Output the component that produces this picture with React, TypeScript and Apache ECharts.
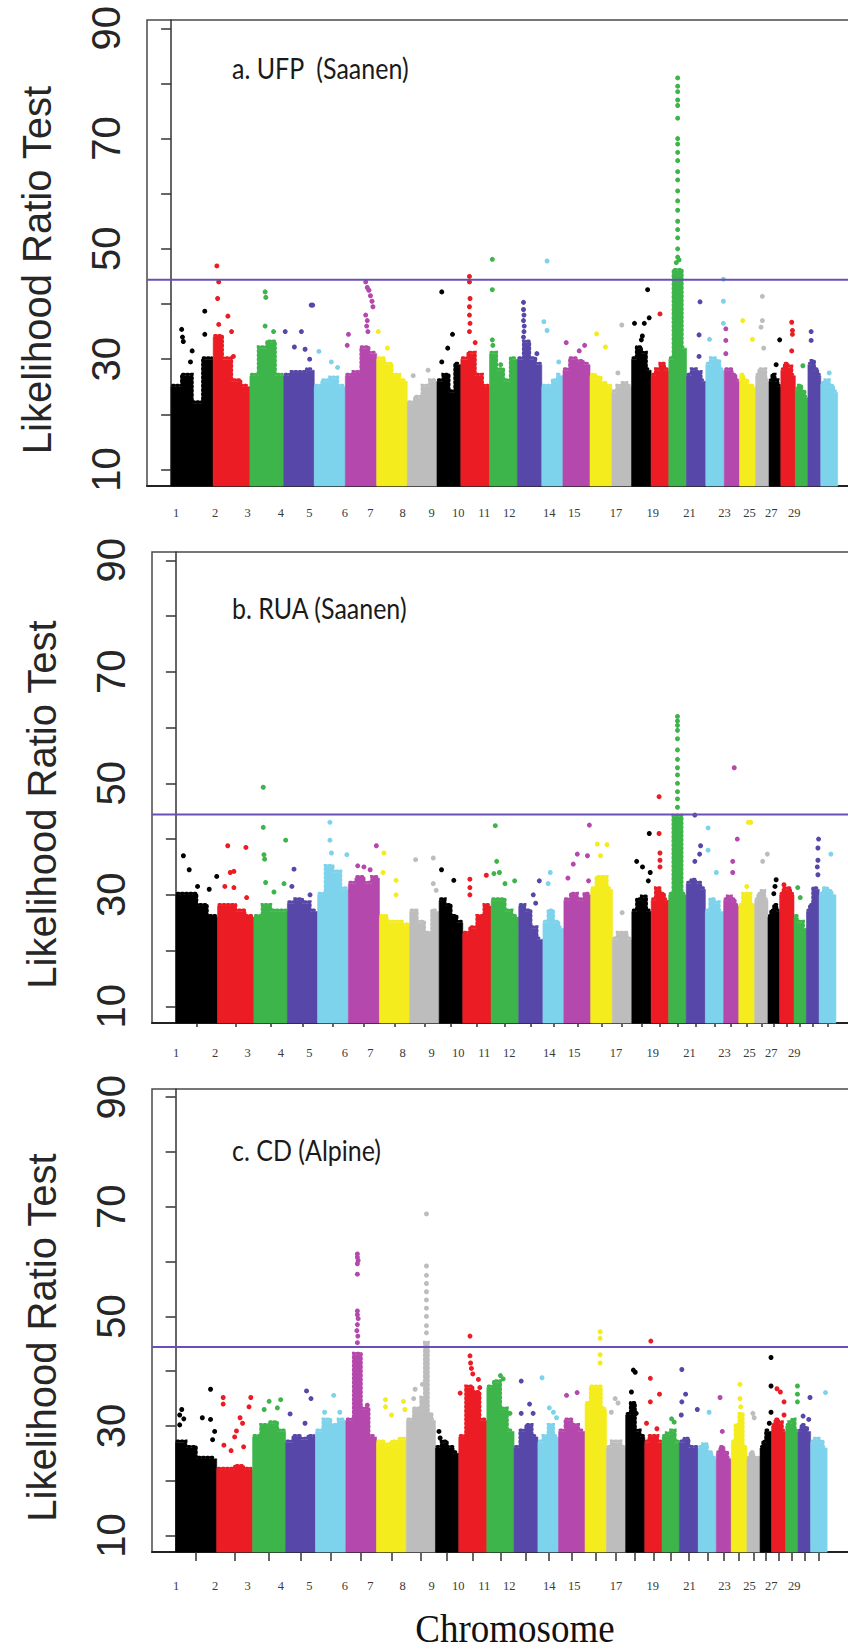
import React, { useEffect, useRef } from "react";
import * as echarts from "echarts";

// ---- shared axis data ----
const CHR_LENGTHS = [157, 137, 126, 114, 116, 117, 114, 111, 89, 107, 104, 91, 79, 101, 82, 73, 73, 66, 66, 72, 69, 57, 60, 50, 44, 54, 47, 48, 63];
const CHR_COLORS = ["#000000", "#EC1C24", "#3DB54A", "#5747A8", "#7ED3EC", "#B548AC", "#F4EC1C", "#BDBDBD"];
const X_MIN = -90;
const X_MAX = 2580;
const Y_MIN = 7;
const Y_MAX = 91.5;
const Y_TICKS = [10, 20, 30, 40, 50, 60, 70, 80, 90];
const Y_TICK_LABELS = [10, 30, 50, 70, 90];
const X_TICK_LABELS = ["1", "2", "3", "4", "5", "6", "7", "8", "9", "10", "11", "12", "14", "15", "17", "19", "21", "23", "25", "27", "29"];
const X_TICK_LABEL_POS = [-3, 144, 267, 392, 499, 633, 729, 851, 960, 1060, 1158, 1252, 1403, 1497, 1654, 1793, 1931, 2063, 2157, 2239, 2326];
const THRESHOLD = 44.4;
const PANEL_TITLES = ["a. UFP  (Saanen)", "b. RUA (Saanen)", "c. CD (Alpine)"];
const Y_TITLE = "Likelihood Ratio Test";
const X_TITLE = "Chromosome";

// ---- panel a: dense block heights per chromosome (segments) ----
const BLOCKS_A = [
  [25, 27, 22, 30], [34, 30, 26, 25], [27, 32, 33, 27], [27, 27.5, 27.5, 28], [25, 26, 26.5, 25],
  [27, 27.5, 32, 31], [30, 29, 27, 26], [22, 23, 25, 26], [26, 27, 24, 29], [30, 31, 27, 25],
  [31, 28, 26, 30], [30, 33, 30, 29], [25, 25, 26, 27], [28, 30, 29.5, 29], [27, 26.5, 25.5, 25],
  [24, 25, 25.5, 25], [30, 32, 31, 28], [27, 28, 29, 28], [30, 46, 46, 32], [27, 28, 27.5, 26],
  [29, 30, 29.5, 28], [28, 28, 27, 26], [27, 26, 25, 25], [27, 28, 28, 26], [26, 27, 26, 25],
  [28, 29, 28.5, 27], [24.5, 25, 24, 23], [29, 29.5, 28, 27], [25.5, 26, 25, 24],
];
// [chromosome, fraction along chromosome, LRT]
const POINTS_A = [
  [1, 0.25, 35.4], [1, 0.27, 34], [1, 0.29, 33.2], [1, 0.5, 31.5], [1, 0.46, 29.5], [1, 0.8, 34.5], [1, 0.8, 38.7],
  [2, 0.1, 46.9], [2, 0.15, 44], [2, 0.12, 41], [2, 0.4, 37.8], [2, 0.15, 36.3], [2, 0.5, 35], [2, 0.55, 30.5],
  [3, 0.45, 42.2], [3, 0.47, 41.2], [3, 0.45, 36], [3, 0.7, 35],
  [4, 0.05, 35], [4, 0.58, 35], [4, 0.35, 32.2], [4, 0.7, 31.8], [4, 0.85, 30], [4, 0.9, 39.8], [4, 0.95, 39.8],
  [5, 0.15, 31.4], [5, 0.55, 29.5], [5, 0.75, 28.5],
  [6, 0.65, 44], [6, 0.7, 43], [6, 0.75, 42.5], [6, 0.8, 41.5], [6, 0.85, 40.5], [6, 0.88, 39.5], [6, 0.65, 38], [6, 0.7, 37], [6, 0.68, 36], [6, 0.72, 35], [6, 0.1, 34.5], [6, 0.06, 32.5],
  [7, 0.05, 35], [7, 0.35, 32],
  [8, 0.7, 28], [8, 0.2, 27],
  [9, 0.2, 42.2], [9, 0.65, 34.5], [9, 0.45, 32], [9, 0.2, 29.5],
  [10, 0.3, 45], [10, 0.3, 44], [10, 0.32, 41], [10, 0.3, 39.5], [10, 0.3, 38], [10, 0.32, 36.5], [10, 0.3, 35], [10, 0.5, 33],
  [11, 0.1, 48.1], [11, 0.1, 42.6], [11, 0.1, 33.5], [11, 0.12, 32.5], [11, 0.4, 29],
  [12, 0.25, 40.3], [12, 0.25, 39], [12, 0.27, 38], [12, 0.25, 37], [12, 0.28, 36], [12, 0.27, 35], [12, 0.25, 34], [12, 0.8, 31],
  [13, 0.25, 47.8], [13, 0.1, 36.8], [13, 0.25, 35.2], [13, 0.8, 29.5],
  [14, 0.12, 33], [14, 0.8, 32.5], [14, 0.6, 31.5],
  [15, 0.3, 34.6], [15, 0.7, 32.2],
  [16, 0.5, 36.2], [16, 0.3, 27.5],
  [17, 0.82, 42.6], [17, 0.15, 36.5], [17, 0.9, 37.5], [17, 0.65, 36.5], [17, 0.55, 34.2], [17, 0.5, 33.5],
  [18, 0.5, 38.2],
  [19, 0.5, 81], [19, 0.5, 79.5], [19, 0.5, 78.5], [19, 0.5, 77], [19, 0.5, 76], [19, 0.5, 73.7], [19, 0.5, 70], [19, 0.5, 69], [19, 0.5, 67.5], [19, 0.5, 66], [19, 0.5, 64], [19, 0.5, 62.5], [19, 0.5, 60.5], [19, 0.5, 58.7], [19, 0.5, 57], [19, 0.5, 55], [19, 0.5, 53.5], [19, 0.5, 52], [19, 0.5, 50], [19, 0.5, 48.5], [19, 0.42, 47.5], [19, 0.58, 48],
  [20, 0.7, 40.4], [20, 0.65, 34.4], [20, 0.65, 30.5],
  [21, 0.2, 33.6], [21, 0.95, 44.5], [21, 0.95, 40.5], [21, 0.95, 36.5],
  [22, 0.1, 35.5], [22, 0.1, 33.4], [22, 0.1, 31],
  [23, 0.2, 37], [23, 0.8, 33.6],
  [24, 0.5, 41.4], [24, 0.5, 37], [24, 0.4, 35.8], [24, 0.6, 32],
  [25, 0.9, 33.5], [25, 0.6, 29],
  [26, 0.75, 36.7], [26, 0.8, 35.2], [26, 0.8, 34.5], [26, 0.75, 31.5],
  [27, 0.6, 28.8],
  [28, 0.25, 35], [28, 0.25, 33.4],
  [29, 0.5, 27.5],
];

// ---- panel b ----
const BLOCKS_B = [
  [30, 30, 28, 26], [28, 28, 27, 26], [26, 28, 27, 27], [28.5, 29, 28.5, 27], [30, 35, 34, 31],
  [32, 33, 32, 33], [26, 25, 25, 24.5], [27, 25, 23, 27], [29, 28, 26, 25], [23, 24, 26, 28],
  [29, 29, 27, 26], [28, 27, 24, 22], [25, 27, 25, 24], [29, 30, 29, 30], [31, 33, 33, 31],
  [22, 23, 23, 22], [27, 29, 29.5, 27], [29, 31, 30, 29], [30, 44, 44, 30], [32, 32.5, 32, 31],
  [27, 29, 28.5, 27], [29, 29.5, 29, 28], [28, 30, 30, 28], [29, 30, 30.5, 29], [26, 27, 28, 27],
  [30, 31, 31, 30], [26, 25, 25, 24], [27, 28, 31, 31], [30, 31, 30.5, 30],
];
const POINTS_B = [
  [1, 0.18, 37], [1, 0.32, 34.5], [1, 0.98, 33.3], [1, 0.52, 31.5], [1, 0.8, 31],
  [2, 0.28, 38.8], [2, 0.78, 38.5], [2, 0.35, 34], [2, 0.45, 34.2], [2, 0.2, 31.5], [2, 0.45, 31.3], [2, 0.8, 29.5],
  [3, 0.28, 49.3], [3, 0.28, 42.1], [3, 0.95, 39.8], [3, 0.3, 37.2], [3, 0.32, 36.4], [3, 0.35, 32.2], [3, 0.9, 32], [3, 0.6, 30.5],
  [4, 0.22, 34.6], [4, 0.15, 31.5], [4, 0.75, 30],
  [5, 0.4, 43], [5, 0.4, 39.8], [5, 0.45, 37.5], [5, 0.95, 37.2],
  [6, 0.9, 38.8], [6, 0.3, 35.2], [6, 0.5, 35], [6, 0.7, 34.5],
  [7, 0.15, 37.5], [7, 0.12, 34], [7, 0.55, 32.6], [7, 0.55, 30],
  [8, 0.2, 36.3], [8, 0.8, 36.6], [8, 0.8, 32], [8, 0.9, 30.8],
  [9, 0.1, 34.5], [9, 0.62, 32.6],
  [10, 0.25, 32.8], [10, 0.25, 31.3], [10, 0.25, 30], [10, 0.83, 33.5],
  [11, 0.15, 42.4], [11, 0.2, 36], [11, 0.3, 34], [11, 0.1, 33.8], [11, 0.5, 32], [11, 0.85, 32.5],
  [12, 0.85, 32.5], [12, 0.6, 30], [12, 0.7, 28.5],
  [13, 0.35, 34], [13, 0.25, 32],
  [14, 0.5, 37.3], [14, 0.88, 37], [14, 0.35, 35.5], [14, 0.15, 33], [14, 0.92, 32.5], [14, 0.95, 42.5],
  [15, 0.3, 39.1], [15, 0.75, 39], [15, 0.45, 37],
  [16, 0.5, 26.8],
  [17, 0.9, 41], [17, 0.25, 36], [17, 0.55, 35], [17, 0.95, 34], [17, 0.85, 32.5],
  [18, 0.45, 47.6], [18, 0.45, 41], [18, 0.5, 37.5], [18, 0.5, 36.2], [18, 0.5, 35],
  [19, 0.5, 62], [19, 0.5, 61.2], [19, 0.5, 60.4], [19, 0.5, 59.5], [19, 0.5, 58], [19, 0.5, 56], [19, 0.5, 54.3], [19, 0.5, 52.8], [19, 0.5, 51.5], [19, 0.5, 50], [19, 0.5, 48.5], [19, 0.5, 47.2], [19, 0.5, 45.7],
  [20, 0.45, 44.3], [20, 0.75, 38.8], [20, 0.7, 37.3], [20, 0.45, 36],
  [21, 0.15, 42], [21, 0.15, 38], [21, 0.6, 34],
  [22, 0.7, 52.8], [22, 0.9, 40], [22, 0.6, 36], [22, 0.6, 34],
  [23, 0.6, 43], [23, 0.75, 43], [23, 0.5, 31.5],
  [24, 0.95, 37.3], [24, 0.6, 36],
  [25, 0.7, 32.7], [25, 0.6, 31.5], [25, 0.5, 30.2],
  [26, 0.3, 31.8],
  [27, 0.3, 31.3], [27, 0.5, 29.5],
  [28, 0.95, 40], [28, 0.9, 38.4], [28, 0.9, 36.2], [28, 0.85, 35], [28, 0.9, 33.6],
  [29, 0.7, 37.3],
];

// ---- panel c ----
const BLOCKS_C = [
  [27, 26, 24, 24], [22, 22, 22.5, 22], [28, 30, 30.5, 29], [27, 28, 27.5, 28], [29, 31, 30, 31],
  [31, 43, 33, 28], [27, 26.5, 27, 27.5], [31, 31, 33, 33, 35, 45, 32, 31], [26, 27, 26, 25], [28, 37, 36, 31],
  [37, 38, 33, 29], [26, 29, 30, 28], [27, 28, 30, 28], [29, 31, 30, 29], [34, 37, 37, 33],
  [26, 27, 27, 26], [32, 34, 29, 28], [27, 28, 28, 27], [28, 28.5, 29, 27], [27, 27.5, 26, 26],
  [26, 26.5, 25, 24], [25, 26, 25, 24], [27, 30, 32, 26], [24, 25, 24, 24], [26, 27, 29, 29],
  [30, 31, 30.5, 29], [30, 30.5, 31, 29], [29, 30, 29.5, 29], [27, 27.5, 27, 26],
];
const POINTS_C = [
  [1, 0.15, 33], [1, 0.1, 32], [1, 0.2, 31.3], [1, 0.1, 30.2], [1, 0.85, 36.7], [1, 0.65, 31.5], [1, 0.85, 31.2], [1, 0.95, 29], [1, 0.9, 27.5],
  [2, 0.18, 35.2], [2, 0.18, 34], [2, 0.95, 35.2], [2, 0.9, 33.5], [2, 0.65, 31.5], [2, 0.72, 30.5], [2, 0.55, 29.1], [2, 0.5, 28], [2, 0.2, 26.5], [2, 0.4, 25.5], [2, 0.75, 26.2],
  [3, 0.5, 34.5], [3, 0.85, 34.8], [3, 0.75, 33.3], [3, 0.35, 33],
  [4, 0.7, 36.4], [4, 0.85, 35], [4, 0.15, 32.2], [4, 0.65, 30.5],
  [5, 0.6, 35.6], [5, 0.3, 32.5], [5, 0.8, 32.5],
  [6, 0.375, 61.4], [6, 0.375, 60.8], [6, 0.4, 60.2], [6, 0.375, 59.6], [6, 0.375, 57.7], [6, 0.375, 51], [6, 0.375, 50.3], [6, 0.4, 49.6], [6, 0.375, 48.5], [6, 0.36, 47.4], [6, 0.39, 46.4], [6, 0.375, 45.2], [6, 0.7, 33.8],
  [7, 0.3, 34.8], [7, 0.3, 33.5], [7, 0.9, 34.5], [7, 0.95, 33], [7, 0.5, 32],
  [8, 0.69, 68.7], [8, 0.69, 59.2], [8, 0.69, 57.5], [8, 0.69, 56], [8, 0.69, 54.5], [8, 0.69, 53], [8, 0.69, 51.5], [8, 0.69, 50], [8, 0.69, 48.3], [8, 0.69, 47], [8, 0.55, 37.6], [8, 0.3, 36.7], [8, 0.25, 35],
  [9, 0.15, 29], [9, 0.2, 27.8],
  [10, 0.4, 46.4], [10, 0.4, 42.8], [10, 0.42, 41.5], [10, 0.45, 40.5], [10, 0.5, 39.5], [10, 0.7, 38.5], [10, 0.05, 36], [10, 0.75, 37],
  [11, 0.5, 39.2], [11, 0.6, 38.6], [11, 0.85, 32.3],
  [12, 0.3, 38.2], [12, 0.65, 34], [12, 0.3, 32.3], [12, 0.8, 32.3],
  [13, 0.2, 38.8], [13, 0.55, 33.3], [13, 0.75, 32.5], [13, 0.9, 31.5],
  [14, 0.3, 35.6], [14, 0.7, 36.1],
  [15, 0.7, 47.2], [15, 0.7, 46], [15, 0.7, 43], [15, 0.7, 41.5],
  [16, 0.45, 35], [16, 0.6, 34.2], [16, 0.25, 32.5],
  [17, 0.4, 40.2], [17, 0.5, 39.8], [17, 0.3, 36.2], [17, 0.55, 32.3],
  [18, 0.35, 45.5], [18, 0.32, 38.7], [18, 0.85, 35.8], [18, 0.32, 34.4], [18, 0.1, 30.5], [18, 0.7, 29.5],
  [19, 0.55, 31.3], [19, 0.7, 30.7],
  [20, 0.13, 40.3], [20, 0.33, 35.8], [20, 0.13, 34.4], [20, 0.95, 33], [20, 0.1, 32],
  [21, 0.6, 32.5],
  [22, 0.25, 35.2], [22, 0.4, 29],
  [23, 0.55, 37.6], [23, 0.55, 35], [23, 0.6, 33.5],
  [24, 0.45, 32.3], [24, 0.55, 31.5],
  [25, 0.95, 42.5], [25, 0.95, 37.3], [25, 0.95, 32.5], [25, 0.8, 30.5],
  [26, 0.38, 36.8], [26, 0.62, 36.2], [26, 0.88, 34.4], [26, 0.88, 32],
  [27, 0.95, 37.3], [27, 0.95, 35.8], [27, 0.95, 34.4],
  [28, 0.95, 35.2], [28, 0.4, 31.8], [28, 0.85, 31.2],
  [29, 0.9, 36.1],
];

const CHR_START: number[] = [];
CHR_LENGTHS.forEach((len, i) => CHR_START.push(i === 0 ? 0 : CHR_START[i - 1] + CHR_LENGTHS[i - 1]));
const CHR_MID = CHR_START.map((s, i) => s + CHR_LENGTHS[i] / 2);

const SANS = "'Liberation Sans', Arial, sans-serif";
const SERIF = "'Liberation Serif', 'Times New Roman', serif";

// layout of the three panels (pixels)
const PANELS = [
  { blocks: BLOCKS_A, points: POINTS_A, grid: { left: 147, top: 20, width: 715.6, height: 466 }, tickLen: 0, labelMargin: 20, titleY: 68 },
  { blocks: BLOCKS_B, points: POINTS_B, grid: { left: 152, top: 552, width: 708.6, height: 471 }, tickLen: 4, labelMargin: 23, titleY: 608 },
  { blocks: BLOCKS_C, points: POINTS_C, grid: { left: 152, top: 1089, width: 699.5, height: 463 }, tickLen: 9, labelMargin: 27, titleY: 1150 },
];
// chromosome labels share one horizontal placement in all panels
const LABEL_ORIGIN_PX = 176.8;
const LABEL_PX_PER_UNIT = 0.2655;

function buildOption() {
  const grid: any[] = [];
  const xAxis: any[] = [];
  const yAxis: any[] = [];
  const series: any[] = [];
  const graphic: any[] = [];

  PANELS.forEach((p, k) => {
    grid.push({
      ...p.grid,
      show: true,
      borderColor: "#4a4a4a",
      borderWidth: 1.5,
      backgroundColor: "transparent",
      containLabel: false,
      outerBoundsMode: "none",
    });
    // data axis (line + ticks)
    xAxis.push({
      type: "value",
      gridIndex: k,
      position: "bottom",
      min: X_MIN,
      max: X_MAX,
      splitLine: { show: false },
      axisLine: { show: true, onZero: false, lineStyle: { color: "#222", width: 2 } },
      axisTick: {
        show: p.tickLen > 0,
        length: p.tickLen,
        customValues: CHR_MID,
        lineStyle: { color: "#333", width: 1.5 },
      },
      axisLabel: { show: false },
    });
    // label axis (chromosome names)
    const lmin = -(LABEL_ORIGIN_PX - p.grid.left) / LABEL_PX_PER_UNIT;
    const lmax = lmin + p.grid.width / LABEL_PX_PER_UNIT;
    xAxis.push({
      type: "value",
      gridIndex: k,
      position: "bottom",
      offset: 0,
      min: lmin,
      max: lmax,
      splitLine: { show: false },
      axisLine: { show: false },
      axisTick: { show: false },
      axisLabel: {
        show: true,
        customValues: X_TICK_LABEL_POS,
        margin: p.labelMargin,
        fontSize: 12.5,
        fontFamily: SERIF,
        color: "#3a3a3a",
        formatter: (v: number) => {
          const j = X_TICK_LABEL_POS.findIndex((q) => Math.abs(q - v) < 1e-6);
          return j >= 0 ? X_TICK_LABELS[j] : "";
        },
      },
    });
    yAxis.push({
      type: "value",
      gridIndex: k,
      min: Y_MIN,
      max: Y_MAX,
      splitLine: { show: false },
      axisLine: { show: true, lineStyle: { color: "#333", width: 1.5 } },
      axisTick: { show: true, length: 10, customValues: Y_TICKS, lineStyle: { color: "#333", width: 1.5 } },
      axisLabel: {
        show: true,
        customValues: Y_TICK_LABELS,
        rotate: 90,
        margin: 21,
        fontSize: 40,
        fontFamily: SANS,
        color: "#262626",
      },
      name: Y_TITLE,
      nameLocation: "middle",
      nameRotate: 90,
      nameGap: 90,
      nameMoveOverlap: false,
      nameTextStyle: { fontSize: 40, fontFamily: SANS, color: "#262626", padding: [0, 34, 0, 0] },
    });

    const blocks = p.blocks;
    series.push({
      type: "custom",
      xAxisIndex: 2 * k,
      yAxisIndex: k,
      z: 2,
      encode: { x: [0, 1], y: 2 },
      data: blocks.map((hs, i) => [CHR_START[i], CHR_START[i] + CHR_LENGTHS[i], Math.max(...hs)]),
      renderItem: (params: any, api: any) => {
        const i = params.dataIndex;
        const hs = blocks[i];
        const s = api.value(0);
        const e = api.value(1);
        const n = hs.length;
        const top: number[][] = [];
        for (let j = 0; j < n; j++) {
          const x0 = s + ((e - s) * j) / n;
          const x1 = s + ((e - s) * (j + 1)) / n;
          top.push(api.coord([x0, hs[j]]));
          top.push(api.coord([x1, hs[j]]));
        }
        const pts = [api.coord([s, Y_MIN]), ...top, api.coord([e, Y_MIN])];
        const color = CHR_COLORS[i % 8];
        const fringe = top.map(([x, y], m) => [
          m === 0 ? x + 1.5 : m === top.length - 1 ? x - 1.5 : x,
          y - 1.4,
        ]);
        return {
          type: "group",
          children: [
            {
              type: "polygon",
              shape: { points: pts },
              style: { fill: color, stroke: color, lineWidth: 0.6 },
            },
            {
              type: "polyline",
              shape: { points: fringe },
              style: { fill: null, stroke: color, lineWidth: 3.2, lineDash: [1.6, 2.6], lineCap: "round" },
            },
          ],
        };
      },
    });
    series.push({
      type: "scatter",
      xAxisIndex: 2 * k,
      yAxisIndex: k,
      z: 3,
      symbol: "circle",
      symbolSize: 5,
      encode: { x: 0, y: 1 },
      data: p.points.map(([c, f, v]) => [CHR_START[c - 1] + f * CHR_LENGTHS[c - 1], v, (c - 1) % 8]),
      itemStyle: { color: (d: any) => CHR_COLORS[d.value[2]], opacity: 1 },
    });
    series.push({
      type: "line",
      xAxisIndex: 2 * k,
      yAxisIndex: k,
      z: 4,
      symbol: "none",
      data: [[X_MIN, THRESHOLD], [X_MAX, THRESHOLD]],
      lineStyle: { color: "#6A50B5", width: 2 },
    });

    graphic.push({
      type: "text",
      x: 232,
      y: p.titleY,
      scaleY: 1.15,
      style: {
        text: PANEL_TITLES[k],
        fontSize: 25,
        fontFamily: "Lato, 'Open Sans', sans-serif",
        fill: "#1a1a1a",
        align: "left",
        verticalAlign: "middle",
      },
    });
  });

  graphic.push({
    type: "text",
    x: 515,
    y: 1628,
    scaleY: 1.1,
    style: {
      text: X_TITLE,
      fontSize: 37,
      fontFamily: SERIF,
      fill: "#111",
      align: "center",
      verticalAlign: "middle",
    },
  });

  return {
    animation: false,
    backgroundColor: "#ffffff",
    grid,
    xAxis,
    yAxis,
    series,
    graphic,
  };
}

export default function App() {
  const ref = useRef<HTMLDivElement>(null);
  useEffect(() => {
    if (!ref.current) return;
    const chart = echarts.init(ref.current, undefined, { renderer: "svg" });
    chart.setOption(buildOption() as any);
    return () => chart.dispose();
  }, []);
  return (
    <div style={{ position: "absolute", left: 0, top: 0, width: 848, height: 1652, overflow: "hidden", background: "#fff" }}>
      <div ref={ref} style={{ width: 880, height: 1652 }} />
    </div>
  );
}
